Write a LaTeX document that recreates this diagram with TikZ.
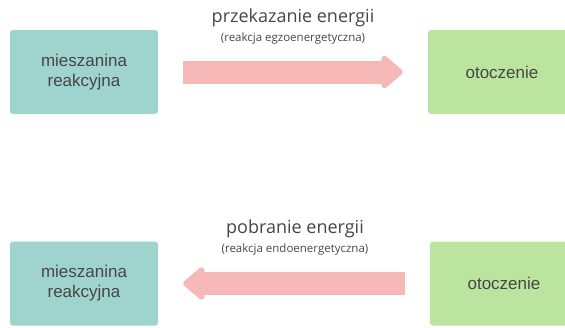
\documentclass[tikz,border=0pt]{standalone}
\usepackage{fontspec}
\setmainfont{Liberation Sans}
\newfontfamily\titlefont{Open Sans}
\usetikzlibrary{arrows.meta,positioning}
\definecolor{fTeal}{RGB}{159,211,205}
\definecolor{fGreen}{RGB}{187,228,159}
\definecolor{fPink}{RGB}{247,184,184}
\definecolor{dGray}{RGB}{70,70,70}
\begin{document}
\begin{tikzpicture}[x=1pt,y=-1pt,
  mix/.style={fill=fTeal,rounded corners=3pt,align=center,font=\fontsize{17}{20}\selectfont,text=dGray,minimum width=148pt,minimum height=84pt},
  env/.style={fill=fGreen,rounded corners=3pt,align=center,font=\fontsize{17}{20}\selectfont,text=dGray,minimum width=148pt,minimum height=84pt},
  flow/.style={line width=23pt,fPink,shorten <=25pt,shorten >=25pt,-{Triangle[length=23pt,width=38pt,round]}},
  ttl/.style={font=\titlefont\fontsize{18}{20}\selectfont,text=dGray},
  sub/.style={font=\titlefont\fontsize{11.5}{13}\selectfont,text=dGray}]
\useasboundingbox (0,0) rectangle (565,327);
\clip (0,0) rectangle (565,327);
% exothermic
\node[mix] (m1) at (84,72) {mieszanina\\reakcyjna};
\node[env] (o1) at (502,72) {otoczenie};
\draw[flow] (m1) -- (o1);
\node[ttl] (t1) at (293,18) {przekazanie energii};
\node[sub,below=-1pt of t1] (s1) {(reakcja egzoenergetyczna)};
% endothermic
\node[mix] (m2) at (84,283.5) {mieszanina\\reakcyjna};
\node[env] (o2) at (504,283.5) {otoczenie};
\draw[flow] (o2) -- (m2);
\node[ttl] (t2) at (295,229) {pobranie energii};
\node[sub,below=-1pt of t2] (s2) {(reakcja endoenergetyczna)};
\end{tikzpicture}
\end{document}
